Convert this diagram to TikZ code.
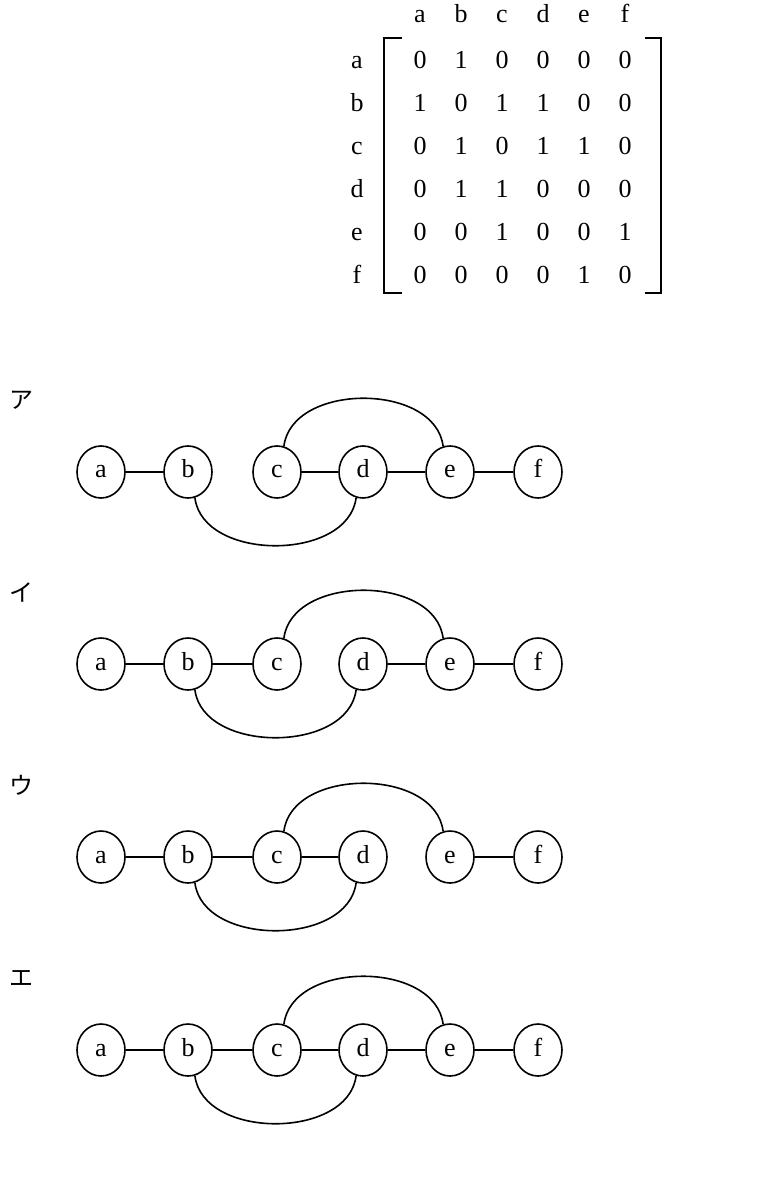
\documentclass[tikz,border=0pt]{standalone}
\usepackage{fontspec}
\usetikzlibrary{shapes.geometric}
\setmainfont{Liberation Serif}
\newfontfamily\cjk{Noto Sans CJK JP}
\begin{document}
\begin{tikzpicture}[x=0.5pt,y=-0.5pt,
  vtx/.style={draw,line width=0.8pt,ellipse,minimum width=24pt,minimum height=26pt,inner sep=0pt,text height=6pt,text depth=0pt,font=\fontsize{13}{15}\selectfont},
  edge/.style={line width=0.8pt},
  txt/.style={font=\fontsize{13}{15}\selectfont,text height=8.5pt,text depth=0pt,inner sep=0pt},
  jlab/.style={font=\cjk\fontsize{12}{14}\selectfont}]
\useasboundingbox (0,0) rectangle (783,1202);
% matrix
\foreach \l [count=\i] in {a,b,c,d,e,f}{
  \pgfmathsetmacro\cx{420+41*(\i-1)}
  \pgfmathsetmacro\ry{60+43*(\i-1)}
  \node[txt] (col\i) at (\cx,14) {\l};
  \node[txt] (row\i) at (357,\ry) {\l};
}
\foreach \r [count=\i] in {{0,1,0,0,0,0},{1,0,1,1,0,0},{0,1,0,1,1,0},{0,1,1,0,0,0},{0,0,1,0,0,1},{0,0,0,0,1,0}}{
  \foreach \v [count=\j] in \r {
    \node[txt] (m\i\j) at ({420+41*(\j-1)},{60+43*(\i-1)}) {\v};
  }
}
\coordinate (bl1) at (402,38); \coordinate (bl2) at (384,38);
\coordinate (bl3) at (384,293); \coordinate (bl4) at (402,293);
\draw[line width=1pt] (bl1) -- (bl2) -- (bl3) -- (bl4);
\coordinate (br1) at (645,38); \coordinate (br2) at (661,38);
\coordinate (br3) at (661,293); \coordinate (br4) at (645,293);
\draw[line width=1pt] (br1) -- (br2) -- (br3) -- (br4);
% graphs
\foreach \k/\y/\lab in {1/472/ア,2/664/イ,3/857/ウ,4/1050/エ}{
  \node[jlab] (lab\k) at (22,\y-72) {\lab};
  \foreach \n/\x in {a/101,b/188,c/277,d/363,e/450,f/538}{
    \node[vtx] (\n\k) at (\x,\y) {\n};
  }
  \draw[edge] (c\k.75) .. controls +(8,-64) and +(-8,-64) .. (e\k.105);
  \draw[edge] (b\k.-75) .. controls +(8,64) and +(-8,64) .. (d\k.-105);
  \draw[edge] (a\k) -- (b\k);
  \draw[edge] (e\k) -- (f\k);
}
\draw[edge] (c1) -- (d1); \draw[edge] (d1) -- (e1);
\draw[edge] (b2) -- (c2); \draw[edge] (d2) -- (e2);
\draw[edge] (b3) -- (c3); \draw[edge] (c3) -- (d3);
\draw[edge] (b4) -- (c4); \draw[edge] (c4) -- (d4); \draw[edge] (d4) -- (e4);
\end{tikzpicture}
\end{document}
